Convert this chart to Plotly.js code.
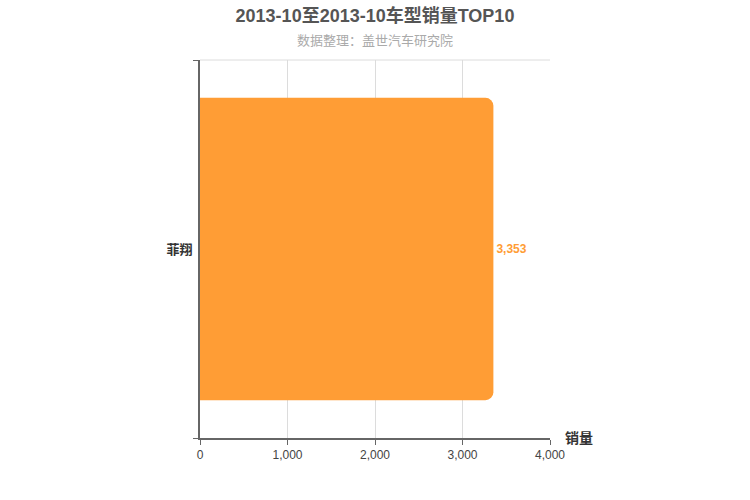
<!DOCTYPE html>
<html>
<head>
<meta charset="utf-8">
<script src="https://cdn.plot.ly/plotly-3.0.1.min.js"></script>
<style>html,body{margin:0;padding:0;background:#fff;}#chart{width:750px;height:500px;}</style>
</head>
<body>
<div id="chart"></div>
<script>
const categories = ["菲翔"];
const sales = [3353];
const xTicks = [0, 1000, 2000, 3000, 4000];

const FONT = '"Liberation Sans", Arial, "Noto Sans CJK SC", sans-serif';

const trace = {
  type: 'bar',
  orientation: 'h',
  y: categories,
  x: sales,
  marker: { color: '#FF9D35', cornerradius: 8 },
  width: 0.8,
  texttemplate: '<b>%{x:,}</b>',
  textposition: 'outside',
  textfont: { color: '#FF9D35', size: 12, family: FONT },
  cliponaxis: false,
  hoverinfo: 'none'
};

const layout = {
  width: 750, height: 500,
  margin: { l: 200, r: 200, t: 60, b: 62 },
  paper_bgcolor: '#fff', plot_bgcolor: '#fff',
  font: { family: FONT, color: '#333' },
  showlegend: false,
  title: {
    text: '<b>2013-10至2013-10车型销量TOP10</b>',
    x: 0.5, xanchor: 'center', y: 0.968, yanchor: 'middle',
    font: { size: 18, color: '#555', family: FONT }
  },
  xaxis: {
    range: [0, 4000],
    tickvals: xTicks,
    tickformat: ',',
    showgrid: true, gridcolor: '#dcdcdc', gridwidth: 1,
    zeroline: false,
    showline: true, linecolor: '#666', linewidth: 2,
    ticks: 'outside', ticklen: 5, tickcolor: '#666',
    tickfont: { size: 12, color: '#444' },
    fixedrange: true
  },
  yaxis: {
    type: 'category',
    showgrid: false, zeroline: false,
    showline: true, linecolor: '#666', linewidth: 2,
    ticks: 'outside', ticklen: 5, tickcolor: '#666', tickson: 'boundaries',
    tickfont: { size: 13, color: '#333' },
    tickprefix: '<b>', ticksuffix: '</b>',
    ticklabelstandoff: 3,
    fixedrange: true
  },
  shapes: [
    { type: 'line', xref: 'paper', yref: 'paper', x0: 0, x1: 1, y0: 1, y1: 1,
      line: { color: '#dcdcdc', width: 1 }, layer: 'below' }
  ],
  annotations: [
    { text: '数据整理：盖世汽车研究院', xref: 'paper', yref: 'paper', x: 0.5, y: 1, yshift: 20,
      xanchor: 'center', yanchor: 'middle', showarrow: false,
      font: { size: 13, color: '#aaa', family: FONT } },
    { text: '<b>销量</b>', xref: 'paper', yref: 'paper', x: 1, y: 0, xshift: 13,
      xanchor: 'left', yanchor: 'middle', showarrow: false,
      font: { size: 14, color: '#333', family: FONT } }
  ]
};

Plotly.newPlot('chart', [trace], layout, { displayModeBar: false, staticPlot: true });
</script>
</body>
</html>
